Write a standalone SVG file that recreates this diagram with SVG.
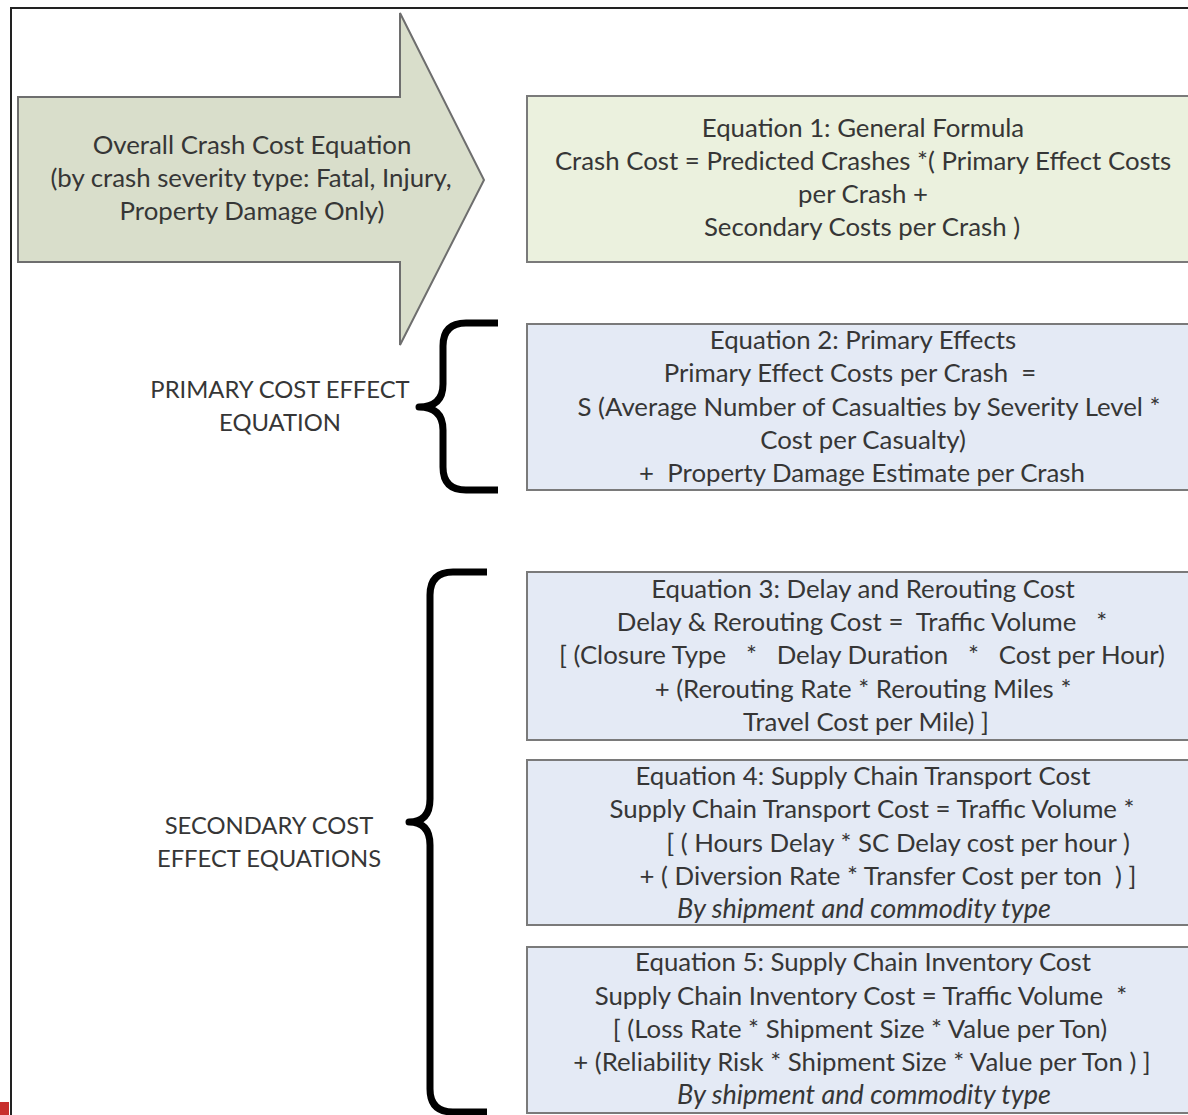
<svg xmlns="http://www.w3.org/2000/svg" width="1188" height="1115" viewBox="0 0 1188 1115">
<style>
.t{font-family:Lato,"Liberation Sans",sans-serif;font-size:25.8px;fill:#363636;text-anchor:middle;white-space:pre}
.i{font-style:italic;font-size:27px}
.lbl{font-size:23.8px}
.eq1{fill:#ebf1de;stroke:#7a7a7a;stroke-width:2}
.eqb{fill:#e4eaf5;stroke:#7a7a7a;stroke-width:2}
.brace{fill:none;stroke:#000;stroke-width:7;stroke-linejoin:round}
</style>
<rect width="1188" height="1115" fill="#fff"/>
<path d="M11,1115 V8 H1188" fill="none" stroke="#222" stroke-width="2"/>
<rect x="0" y="1102" width="9" height="13" fill="#c8302e"/>

<g id="overall-arrow">
<polygon points="18,97 400,97 400,13 484,180 400,345 400,262 18,262" fill="#d9decb" stroke="#6e6e6e" stroke-width="2"/>
<text class="t" x="252" y="154">Overall Crash Cost Equation</text>
<text class="t" x="251" y="187">(by crash severity type: Fatal, Injury,</text>
<text class="t" x="252" y="220">Property Damage Only)</text>
</g>

<g id="eq1">
<rect class="eq1" x="527" y="96" width="666" height="166"/>
<text class="t" x="863" y="137">Equation 1: General Formula</text>
<text class="t" x="863" y="170">Crash Cost = Predicted Crashes *( Primary Effect Costs</text>
<text class="t" x="863" y="203">per Crash +</text>
<text class="t" x="862" y="236">Secondary Costs per Crash )</text>
</g>

<g id="eq2">
<rect class="eqb" x="527" y="324" width="666" height="166"/>
<text class="t" x="863" y="349">Equation 2: Primary Effects</text>
<text class="t" x="850" y="382">Primary Effect Costs per Crash  =</text>
<text class="t" x="869" y="416">S (Average Number of Casualties by Severity Level *</text>
<text class="t" x="863" y="449">Cost per Casualty)</text>
<text class="t" x="862" y="482">+  Property Damage Estimate per Crash</text>
</g>

<g id="eq3">
<rect class="eqb" x="527" y="572" width="666" height="168"/>
<text class="t" x="863" y="598">Equation 3: Delay and Rerouting Cost</text>
<text class="t" x="862" y="631">Delay &amp; Rerouting Cost =  Traffic Volume   *</text>
<text class="t" x="862" y="664">[ (Closure Type   *   Delay Duration   *   Cost per Hour)</text>
<text class="t" x="863" y="698">+ (Rerouting Rate * Rerouting Miles *</text>
<text class="t" x="866" y="731">Travel Cost per Mile) ]</text>
</g>

<g id="eq4">
<rect class="eqb" x="527" y="760" width="666" height="165"/>
<text class="t" x="863" y="785">Equation 4: Supply Chain Transport Cost</text>
<text class="t" x="872" y="818">Supply Chain Transport Cost = Traffic Volume *</text>
<text class="t" x="898" y="852">[ ( Hours Delay * SC Delay cost per hour )</text>
<text class="t" x="888" y="885">+ ( Diversion Rate * Transfer Cost per ton  ) ]</text>
<text class="t i" x="864" y="918">By shipment and commodity type</text>
</g>

<g id="eq5">
<rect class="eqb" x="527" y="947" width="666" height="166"/>
<text class="t" x="863" y="971">Equation 5: Supply Chain Inventory Cost</text>
<text class="t" x="861" y="1005">Supply Chain Inventory Cost = Traffic Volume  *</text>
<text class="t" x="860" y="1038">[ (Loss Rate * Shipment Size * Value per Ton)</text>
<text class="t" x="862" y="1071">+ (Reliability Risk * Shipment Size * Value per Ton ) ]</text>
<text class="t i" x="864" y="1104">By shipment and commodity type</text>
</g>

<g id="primary-label">
<text class="t lbl" x="280" y="398">PRIMARY COST EFFECT</text>
<text class="t lbl" x="280" y="431">EQUATION</text>
</g>
<g id="secondary-label">
<text class="t lbl" x="269" y="834">SECONDARY COST</text>
<text class="t lbl" x="269" y="867">EFFECT EQUATIONS</text>
</g>

<g id="connectors">
<path class="brace" d="M498,323 H466 Q443,323 443,346 V384 Q443,407 419,407 Q443,407 443,430 V467 Q443,490 466,490 H498"/>
<path class="brace" d="M487,572 H453 Q430,572 430,595 V799 Q430,822 409,822 Q430,822 430,845 V1089 Q430,1112 453,1112 H487"/>
</g>
</svg>
